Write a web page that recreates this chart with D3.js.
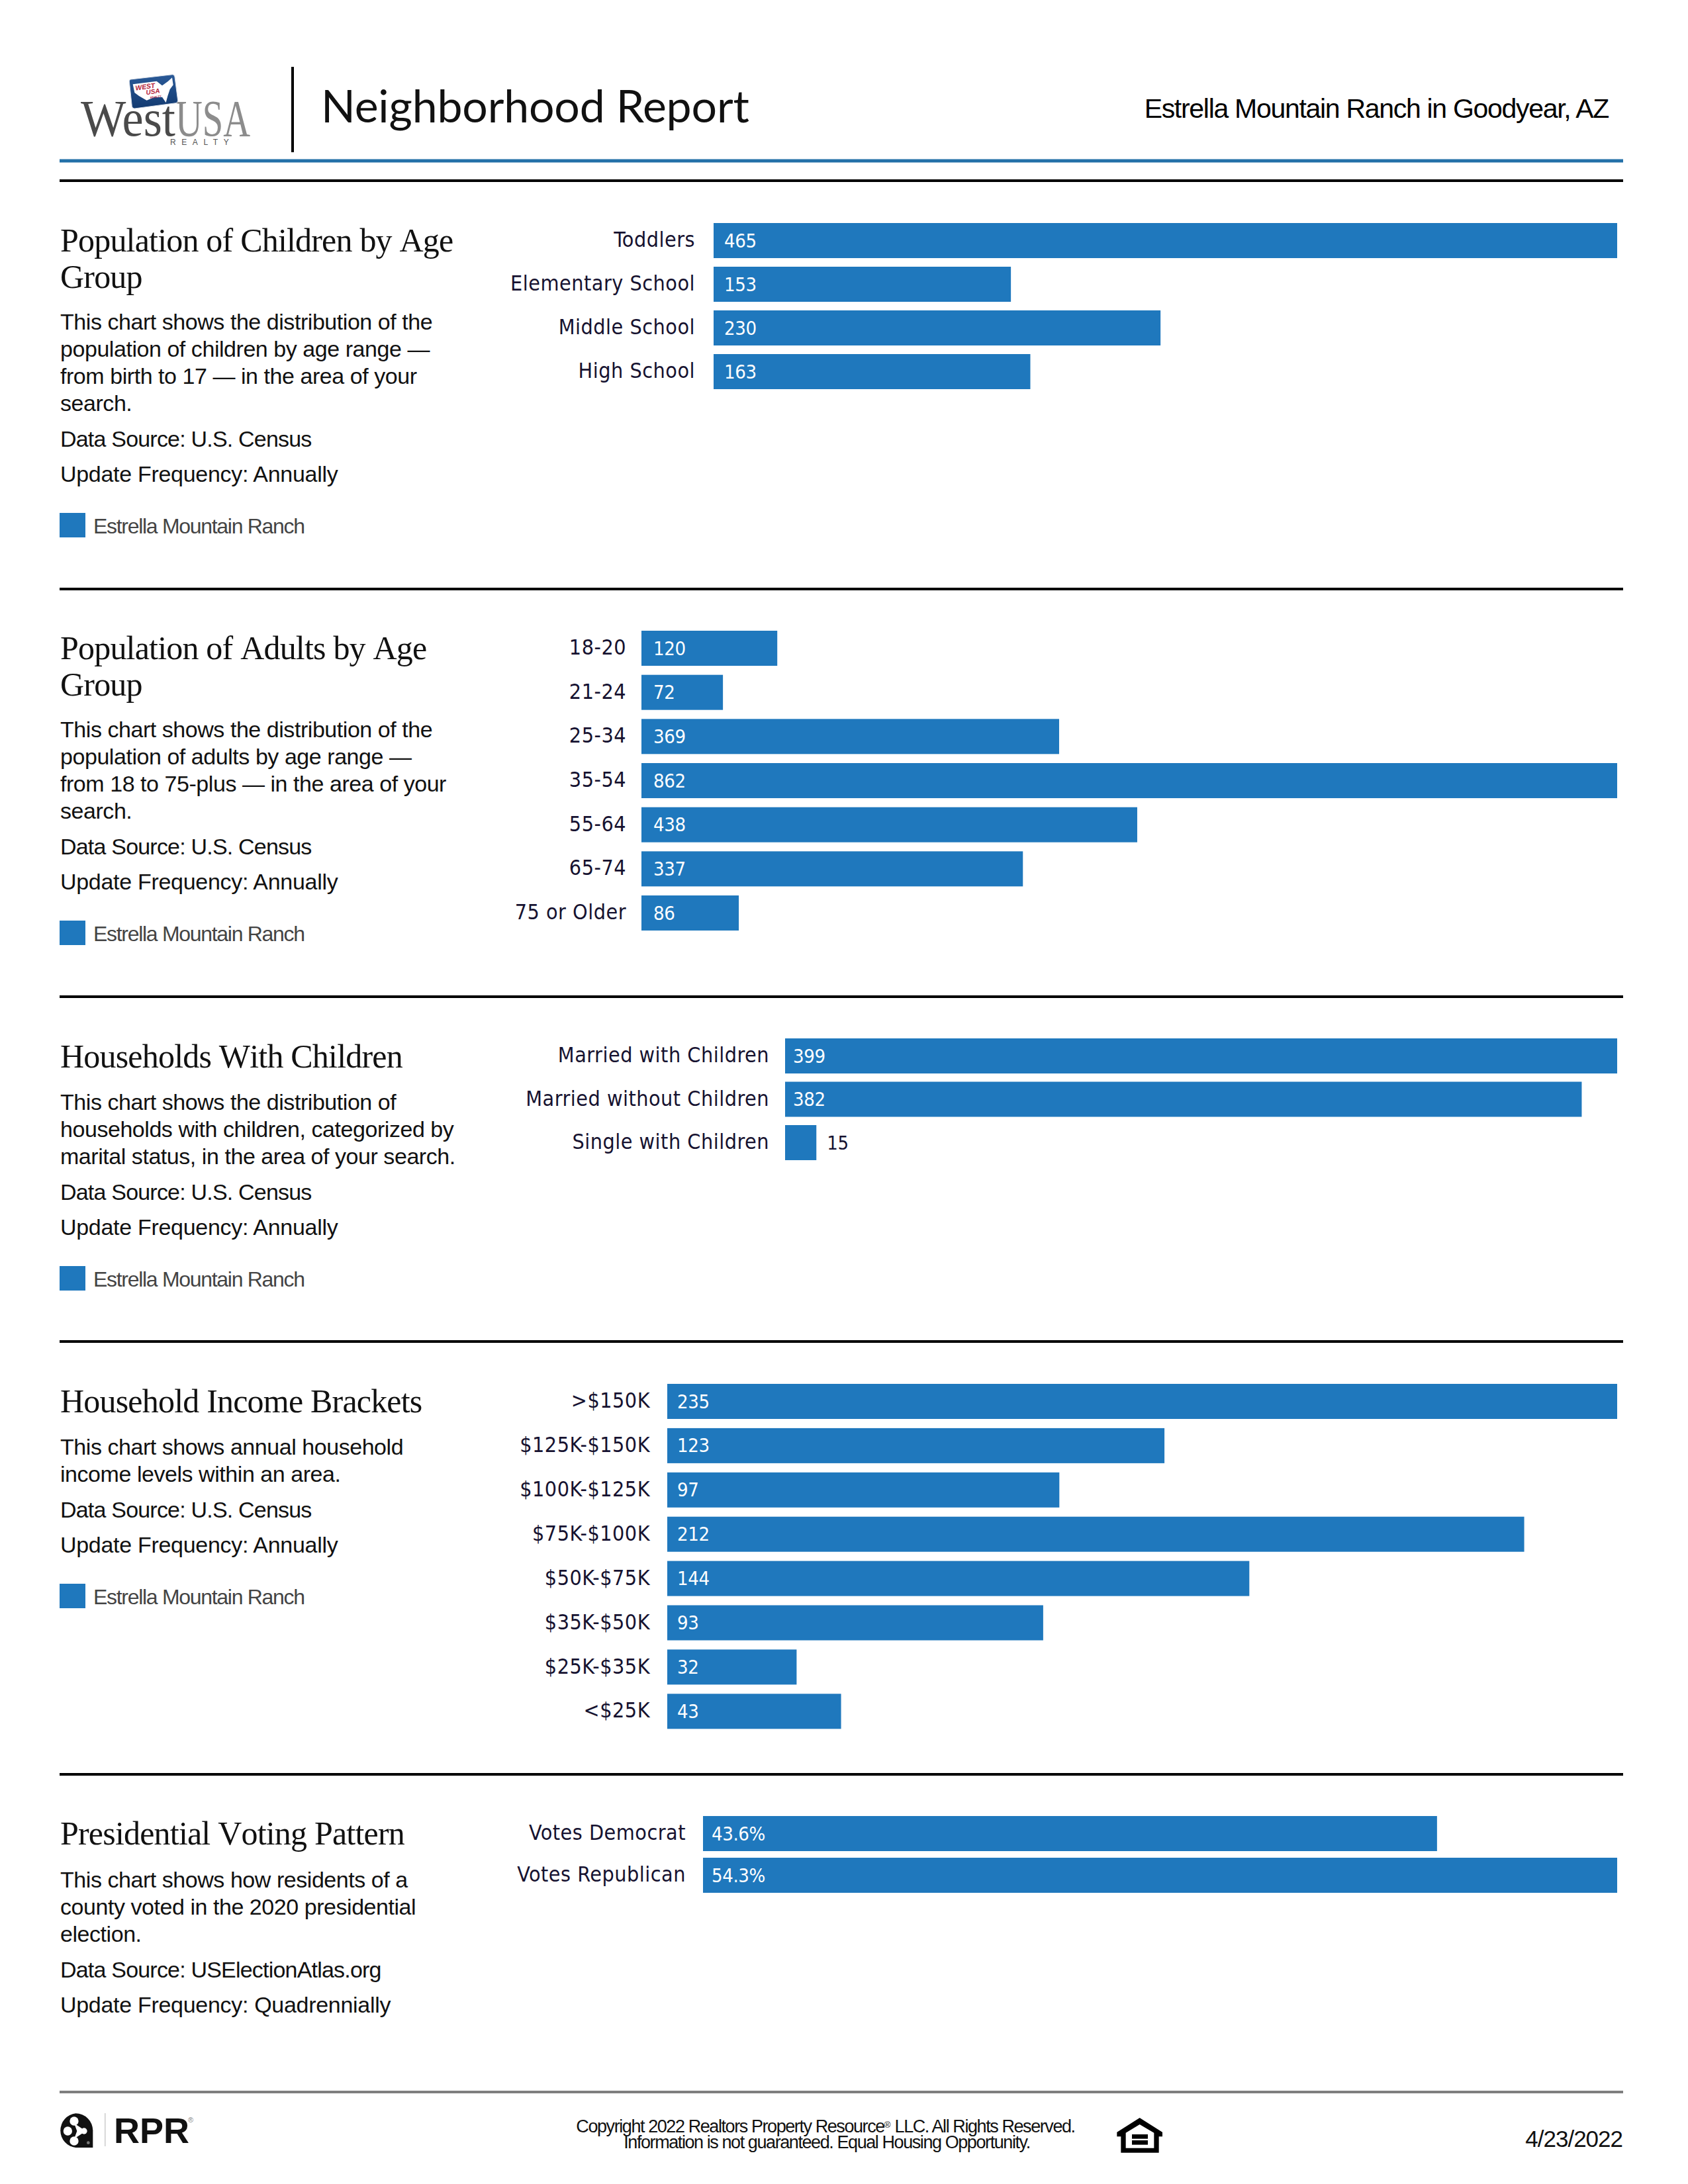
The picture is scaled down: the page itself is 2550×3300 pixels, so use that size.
<!DOCTYPE html>
<html><head><meta charset="utf-8">
<script src="https://cdn.jsdelivr.net/npm/d3@7/dist/d3.min.js"></script>
<style>
html,body{margin:0;padding:0;background:#fff}
svg{display:block}
.title{font-family:"Liberation Serif",serif;font-size:50px;fill:#111;letter-spacing:-.8px;font-kerning:none}
.body{font-family:"Liberation Sans",Arial,sans-serif;font-size:34px;fill:#111;letter-spacing:-.45px}
.src{font-family:"Liberation Sans",Arial,sans-serif;font-size:34px;fill:#111;letter-spacing:-.8px}
.upd{font-family:"Liberation Sans",Arial,sans-serif;font-size:34px;fill:#111;letter-spacing:-.3px}
.legend{font-family:"Liberation Sans",Arial,sans-serif;font-size:32px;fill:#444;letter-spacing:-1.3px}
.foot{font-family:"Liberation Sans",Arial,sans-serif;font-size:27px;fill:#111;letter-spacing:-1.42px;text-anchor:middle}
.axis text{font-family:"DejaVu Sans Condensed","DejaVu Sans",sans-serif;font-stretch:condensed;font-size:32px;fill:#161230;letter-spacing:.5px}
.val{font-family:"DejaVu Sans Condensed","DejaVu Sans",sans-serif;font-stretch:condensed;font-size:29px;letter-spacing:-.4px}
</style></head><body>
<script>
// ---------- data ----------
const childAges = ["Toddlers","Elementary School","Middle School","High School"];
const childCounts = [465,153,230,163];
const adultAges = ["18-20","21-24","25-34","35-54","55-64","65-74","75 or Older"];
const adultCounts = [120,72,369,862,438,337,86];
const householdTypes = ["Married with Children","Married without Children","Single with Children"];
const householdCounts = [399,382,15];
const incomeBrackets = [">$150K","$125K-$150K","$100K-$125K","$75K-$100K","$50K-$75K","$35K-$50K","$25K-$35K","<$25K"];
const incomeCounts = [235,123,97,212,144,93,32,43];
const voteParties = ["Votes Democrat","Votes Republican"];
const voteShares = [43.6,54.3];

const childText = ["This chart shows the distribution of the","population of children by age range —","from birth to 17 — in the area of your","search."];
const adultText = ["This chart shows the distribution of the","population of adults by age range —","from 18 to 75-plus — in the area of your","search."];
const householdText = ["This chart shows the distribution of","households with children, categorized by","marital status, in the area of your search."];
const incomeText = ["This chart shows annual household","income levels within an area."];
const voteText = ["This chart shows how residents of a","county voted in the 2020 presidential","election."];

const panels = [
  {title:["Population of Children by Age","Group"],text:childText,source:"U.S. Census",freq:"Annually",legend:true,cats:childAges,vals:childCounts,fmt:d=>d,
   titleY:380,bodyGap:63,left:1078,top:337,step:66,labelR:1050,valPad:16},
  {title:["Population of Adults by Age","Group"],text:adultText,source:"U.S. Census",freq:"Annually",legend:true,cats:adultAges,vals:adultCounts,fmt:d=>d,
   titleY:996,bodyGap:63,left:969,top:953,step:66.67,labelR:946,valPad:18},
  {title:["Households With Children"],text:householdText,source:"U.S. Census",freq:"Annually",legend:true,cats:householdTypes,vals:householdCounts,fmt:d=>d,
   titleY:1613,bodyGap:64,left:1186,top:1569,step:65.5,labelR:1162,valPad:12},
  {title:["Household Income Brackets"],text:incomeText,source:"U.S. Census",freq:"Annually",legend:true,cats:incomeBrackets,vals:incomeCounts,fmt:d=>d,
   titleY:2134,bodyGap:64,left:1008,top:2091,step:66.9,labelR:982,valPad:15},
  {title:["Presidential Voting Pattern"],text:voteText,source:"USElectionAtlas.org",freq:"Quadrennially",legend:false,cats:voteParties,vals:voteShares,fmt:d=>d+"%",
   titleY:2787,bodyGap:65,left:1062,top:2744,step:63,labelR:1036,valPad:13}
];
const ruleYs = [273,890,1506,2027,2681];

// ---------- drawing ----------
const BLUE="#1f78bd", RIGHT=2443, BARH=53, MARGIN=90;
const svg=d3.select("body").append("svg").attr("width",2550).attr("height",3300);
const hr=(y,h,c)=>svg.append("rect").attr("x",MARGIN).attr("y",y-h/2).attr("width",2452-MARGIN).attr("height",h).attr("fill",c);

// header
drawWestUSA();
svg.append("rect").attr("x",440).attr("y",101).attr("width",4).attr("height",129).attr("fill","#000");
svg.append("text").attr("x",485).attr("y",185).text("Neighborhood Report")
  .style("font-family","Lato,'Open Sans',sans-serif").style("font-size","68px").style("fill","#111").style("letter-spacing","-.2px");
svg.append("text").attr("x",2430).attr("y",178).attr("text-anchor","end").text("Estrella Mountain Ranch in Goodyear, AZ")
  .style("font-family","'Liberation Sans',Arial,sans-serif").style("font-size","41px").style("fill","#000").style("letter-spacing","-1.3px");
hr(243,5,"#2370a8");
ruleYs.forEach(y=>hr(y,4,"#000"));
hr(3161,4,"#7f7f7f");

panels.forEach(p=>{
  const g=svg.append("g");
  p.title.forEach((t,i)=>g.append("text").attr("class","title").attr("x",MARGIN+1).attr("y",p.titleY+i*55).text(t));
  const bodyY=p.titleY+(p.title.length-1)*55+p.bodyGap;
  p.text.forEach((t,i)=>g.append("text").attr("class","body").attr("x",MARGIN+1).attr("y",bodyY+i*41).text(t));
  const dataY=bodyY+(p.text.length-1)*41+54, updY=dataY+53;
  g.append("text").attr("class","src").attr("x",MARGIN+1).attr("y",dataY).text("Data Source: "+p.source);
  g.append("text").attr("class","upd").attr("x",MARGIN+1).attr("y",updY).text("Update Frequency: "+p.freq);
  if(p.legend){
    const ly=updY+47;
    g.append("rect").attr("x",MARGIN).attr("y",ly).attr("width",39).attr("height",37).attr("fill",BLUE);
    g.append("text").attr("class","legend").attr("x",141).attr("y",ly+31).text("Estrella Mountain Ranch");
  }
  const n=p.cats.length;
  const y=d3.scaleBand().domain(p.cats).range([p.top,p.top+(n-1)*p.step+BARH]).paddingInner(1-BARH/p.step).paddingOuter(0);
  const x=d3.scaleLinear().domain([0,d3.max(p.vals)]).range([p.left,RIGHT]);
  const ax=g.append("g").attr("class","axis").attr("transform",`translate(${p.labelR},0)`)
    .call(d3.axisLeft(y).tickSize(0).tickPadding(0));
  ax.select(".domain").remove();
  ax.selectAll("text").attr("dy","0.3em");
  const rows=p.cats.map((c,i)=>({c,v:p.vals[i]}));
  g.selectAll("rect.bar").data(rows).join("rect").attr("class","bar")
    .attr("x",x(0)).attr("y",d=>y(d.c)).attr("width",d=>x(d.v)-x(0)).attr("height",y.bandwidth()).attr("fill",BLUE);
  g.selectAll("text.val").data(rows).join("text").attr("class","val")
    .attr("x",d=>(x(d.v)-x(0)<60)?x(d.v)+16:x(0)+p.valPad)
    .attr("y",d=>y(d.c)+y.bandwidth()/2+10)
    .attr("fill",d=>(x(d.v)-x(0)<60)?"#161230":"#fff")
    .text(d=>p.fmt(d.v));
});

// footer
drawRPR();
const f1=svg.append("text").attr("class","foot").attr("x",1247).attr("y",3222);
f1.append("tspan").text("Copyright 2022 Realtors Property Resource");
f1.append("tspan").attr("dy",-7).style("font-size","13px").style("letter-spacing","0").text("®");
f1.append("tspan").attr("dy",7).text(" LLC. All Rights Reserved.");
svg.append("text").attr("class","foot").attr("x",1249).attr("y",3246).text("Information is not guaranteed. Equal Housing Opportunity.");
drawEqualHousing();
svg.append("text").attr("x",2451).attr("y",3244).attr("text-anchor","end").text("4/23/2022")
  .style("font-family","'Liberation Sans',Arial,sans-serif").style("font-size","35px").style("fill","#111").style("letter-spacing","-1px");

function drawWestUSA(){
  // wordmark kept as one text element: West / USA / REALTY
  const w=svg.append("text").style("font-family","'Liberation Serif',serif").style("font-size","78px");
  w.append("tspan").attr("x",122).attr("y",205).attr("textLength",143).attr("lengthAdjust","spacingAndGlyphs").style("fill","#4a4a4a").text("West");
  w.append("tspan").attr("x",265).attr("y",205).attr("textLength",113).attr("lengthAdjust","spacingAndGlyphs").style("fill","#8c8c8c").text("USA");
  w.append("tspan").attr("x",257).attr("y",219).style("font-family","'Liberation Sans',sans-serif").style("font-size","12px").style("letter-spacing","8.6px").style("fill","#555").text("REALTY");
  const defs=svg.append("defs");
  const lg=defs.append("linearGradient").attr("id","shield").attr("x1",0).attr("y1",0).attr("x2",0).attr("y2",1);
  lg.append("stop").attr("offset",0).attr("stop-color","#2a5a98");
  lg.append("stop").attr("offset",1).attr("stop-color","#123a70");
  const z=svg.append("g").attr("transform","translate(90,90) scale(.3333)");
  z.append("path").attr("d","M322,90 L512,68 Q520,68 522,78 L536,185 Q536,195 528,197 L340,222 Q330,222 328,212 L316,100 Q316,90 322,90 Z")
    .attr("fill","url(#shield)").attr("stroke","#d9dfe8").attr("stroke-width",3);
  z.append("path").attr("d","M332,112 L440,98 L465,118 L490,100 L510,82 L515,115 L500,135 L490,165 L482,195 L465,170 L430,170 L395,185 L360,165 L340,150 Z").attr("fill","#fff");
  const m=z.append("text").attr("transform","rotate(-8 345 140)")
    .style("font-family","'Liberation Sans',sans-serif").style("font-weight","bold").style("font-style","italic").style("fill","#b3233b");
  m.append("tspan").attr("x",345).attr("y",140).style("font-size","31px").text("WEST");
  m.append("tspan").attr("x",390).attr("y",166).style("font-size","30px").text("USA");
  m.append("tspan").attr("x",405).attr("y",186).style("font-size","13px").text("REALTY");
}
function drawRPR(){
  const z=svg.append("g").attr("transform","translate(77,3150) scale(.3333)");
  z.append("path").attr("d","M112,130 A78,78 0 0 1 190,208 L190,285 L112,285 A78,78 0 0 1 112,130 Z").attr("fill","#111");
  [[105,165,20],[76,210,20],[105,255,20],[150,210,14]].forEach(c=>z.append("circle").attr("cx",c[0]).attr("cy",c[1]).attr("r",c[2]).attr("fill","#fff"));
  z.append("path").attr("d","M105,175 L150,205 L150,215 L105,245 L118,210 Z").attr("fill","#fff");
  z.append("circle").attr("cx",169).attr("cy",263).attr("r",7).attr("fill","#777");
  svg.append("rect").attr("x",158).attr("y",3193).attr("width",1.5).attr("height",50).attr("fill","#ccc");
  svg.append("text").attr("x",172).attr("y",3238).text("RPR")
    .style("font-family","'Liberation Sans',sans-serif").style("font-weight","bold").style("font-size","54px").style("fill","#111");
  svg.append("text").attr("x",284).attr("y",3207).text("®")
    .style("font-family","'Liberation Sans',sans-serif").style("font-size","11px").style("fill","#888");
}
function drawEqualHousing(){
  const z=svg.append("g").attr("transform","translate(1660,3180) scale(.3333)");
  z.append("path").attr("fill-rule","evenodd").attr("fill","#000")
   .attr("d","M185,60 L288,125 L288,145 L272,145 L272,218 L100,218 L100,145 L82,145 L82,125 Z M185,90 L122,128 L122,197 L250,197 L250,128 Z");
  z.append("rect").attr("x",150).attr("y",135).attr("width",72).attr("height",20).attr("fill","#000");
  z.append("rect").attr("x",150).attr("y",162).attr("width",72).attr("height",20).attr("fill","#000");
}
</script>
</body></html>
